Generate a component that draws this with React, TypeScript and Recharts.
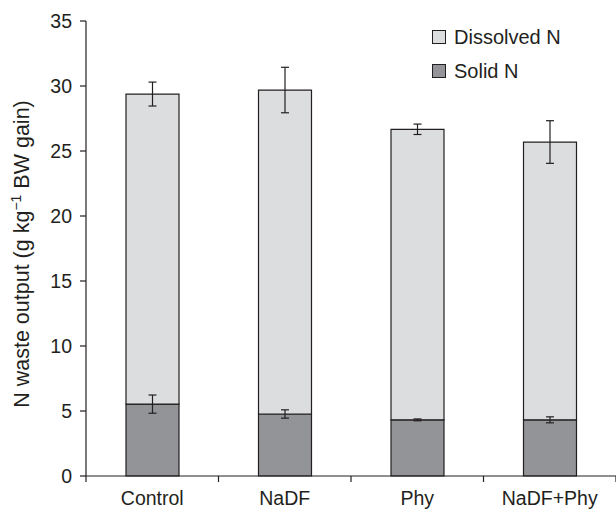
import { BarChart, Bar, XAxis, YAxis, ErrorBar, Legend } from "recharts";

const categories = ["Control", "NaDF", "Phy", "NaDF+Phy"];
const solidN = [5.53, 4.77, 4.32, 4.32];
const solidErr = [0.7, 0.32, 0.07, 0.23];
const dissolvedN = [23.85, 24.92, 22.35, 21.37];
const totalErr = [0.92, 1.75, 0.4, 1.64];
const yTicks = [0, 5, 10, 15, 20, 25, 30, 35];

const data = categories.map((name, i) => ({
  name,
  solid: solidN[i],
  solidErr: solidErr[i],
  dissolved: dissolvedN[i],
  totalErr: totalErr[i],
}));

const INK = "#231f20";
const FONT = "'Liberation Sans', Arial, sans-serif";
const W = 616;
const H = 510;
const LEFT = 86;
const BAND = (W - LEFT) / categories.length;

function XTick(props: any) {
  const { x, y, payload, index } = props;
  const left = x - BAND / 2;
  return (
    <g>
      <line x1={left} y1={y - 8} x2={left} y2={y - 2} stroke={INK} strokeWidth={1.2} />
      {index === categories.length - 1 && (
        <line x1={x + BAND / 2} y1={y - 8} x2={x + BAND / 2} y2={y - 2} stroke={INK} strokeWidth={1.2} />
      )}
      <text x={x} y={505} textAnchor="middle" fill={INK} fontSize={19.5} fontFamily={FONT}>
        {payload.value}
      </text>
    </g>
  );
}

function YLabel() {
  return (
    <text
      x={29}
      y={254}
      transform="rotate(-90, 29, 254)"
      textAnchor="middle"
      fill={INK}
      fontSize={21.5}
      fontFamily={FONT}
    >
      N waste output (g kg
      <tspan dy={-8} fontSize={14}>−1</tspan>
      <tspan dy={8}> BW gain)</tspan>
    </text>
  );
}

function LegendBox() {
  const items = [
    { label: "Dissolved N", fill: "#dcdddf" },
    { label: "Solid N", fill: "#929497" },
  ];
  return (
    <div style={{ fontFamily: FONT, fontSize: 20, color: INK }}>
      {items.map((it) => (
        <div key={it.label} style={{ display: "flex", alignItems: "center", height: 34 }}>
          <span
            style={{
              width: 12,
              height: 12,
              background: it.fill,
              border: `1px solid ${INK}`,
              marginRight: 8,
              display: "inline-block",
            }}
          />
          <span>{it.label}</span>
        </div>
      ))}
    </div>
  );
}

export default function App() {
  return (
    <div style={{ position: "absolute", left: 0, top: 0, width: W, height: H, background: "#fff" }}>
      <BarChart
        width={W}
        height={H}
        data={data}
        margin={{ top: 21, right: 0, bottom: 0, left: 0 }}
        barSize={53}
      >
        <XAxis
          dataKey="name"
          height={34}
          axisLine={{ stroke: INK, strokeWidth: 1.2 }}
          tickLine={false}
          tick={<XTick />}
          interval={0}
        />
        <YAxis
          width={LEFT}
          domain={[0, 35]}
          ticks={yTicks}
          interval={0}
          tickSize={6}
          tickMargin={8}
          axisLine={{ stroke: INK, strokeWidth: 1.2 }}
          tickLine={{ stroke: INK, strokeWidth: 1.2 }}
          tick={{ fill: INK, fontSize: 19.5, fontFamily: FONT }}
          label={{ content: () => <YLabel /> }}
        />
        <Legend
          layout="vertical"
          align="center"
          verticalAlign="middle"
          content={() => <LegendBox />}
          wrapperStyle={{ position: "absolute", left: 432, top: 20, width: "auto" }}
        />
        <Bar
          dataKey="solid"
          stackId="n"
          fill="#929497"
          stroke={INK}
          strokeWidth={1.2}
          isAnimationActive={false}
        >
          <ErrorBar dataKey="solidErr" width={4} stroke={INK} strokeWidth={1.2} />
        </Bar>
        <Bar
          dataKey="dissolved"
          stackId="n"
          fill="#dcdddf"
          stroke={INK}
          strokeWidth={1.2}
          isAnimationActive={false}
        >
          <ErrorBar dataKey="totalErr" width={4} stroke={INK} strokeWidth={1.2} />
        </Bar>
      </BarChart>
    </div>
  );
}
